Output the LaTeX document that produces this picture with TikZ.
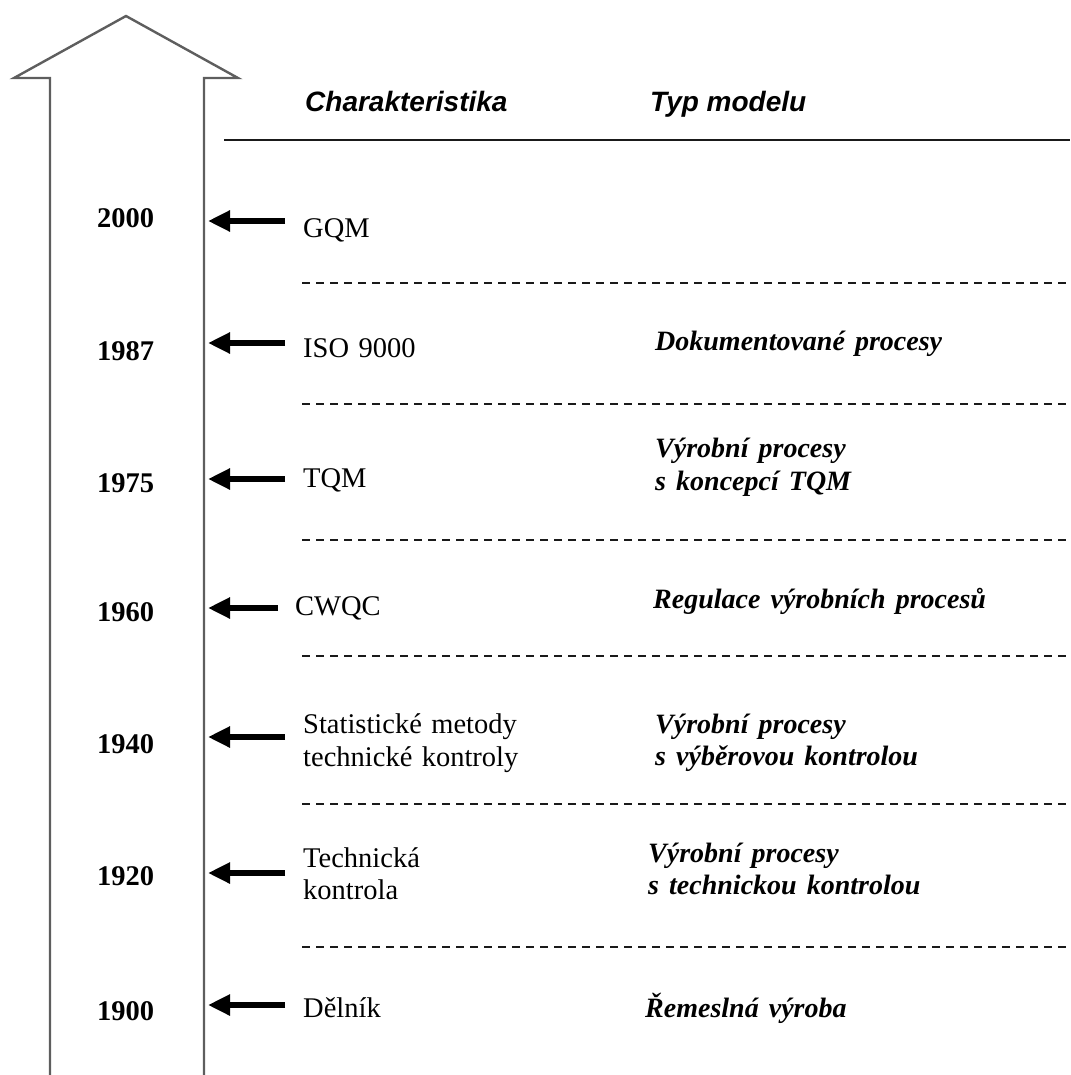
\documentclass[tikz,border=0pt]{standalone}
\usepackage{fontspec}
\setmainfont{Liberation Serif}
\newfontfamily\hfont{Liberation Sans}
\usetikzlibrary{arrows.meta}
\definecolor{shaftgray}{HTML}{5E5E5E}
\definecolor{inkdark}{HTML}{1A1A1A}
\newcommand\widewordspace{\spaceskip=0.36em plus 0.1em\relax}
\newcommand\charwordspace{\spaceskip=0.33em plus 0.1em\relax}
\begin{document}
\begin{tikzpicture}[x=1pt,y=-1pt,
  txt/.style={anchor=base west,inner sep=0pt,font=\fontsize{28}{32}\selectfont},
  year/.style={txt,font=\fontsize{28.5}{32}\selectfont\bfseries},
  charbox/.style={txt,font=\fontsize{28.5}{32}\selectfont\charwordspace},
  modelbox/.style={txt,font=\fontsize{28}{32}\selectfont\bfseries\itshape\widewordspace},
  headbox/.style={txt,font=\fontsize{28}{32}\selectfont\hfont\bfseries\itshape},
  sep/.style={draw=inkdark,line width=1.4pt,dash pattern=on 8pt off 6pt},
  pointer/.style={line width=6.5pt,-{Triangle[length=22pt,width=20pt]}},
  bigarrow/.style={draw=shaftgray,line width=2.4pt,line join=miter}]
\useasboundingbox (0,0) rectangle (1070,1075);

% big time arrow
\draw[bigarrow] (50,1080) -- (50,78) -- (14,78) -- (126,16) -- (238,78) -- (204,78) -- (204,1080);

% header
\node[headbox] (hchar) at (305,112) {Charakteristika};
\node[headbox] (hmodel) at (650,112) {Typ modelu};
\coordinate (hl) at (224,140);
\coordinate (hr) at (1070,140);
\draw[inkdark,line width=1.8pt] (hl) -- (hr);

% years
\node[year] (y2000) at (97,228) {2000};
\node[year] (y1987) at (97,360) {1987};
\node[year] (y1975) at (97,492) {1975};
\node[year] (y1960) at (97,621) {1960};
\node[year] (y1940) at (97,753) {1940};
\node[year] (y1920) at (97,885) {1920};
\node[year] (y1900) at (97,1020) {1900};

% characteristics
\node[charbox] (c2000) at (303,237) {GQM};
\node[charbox] (c1987) at (303,357) {ISO 9000};
\node[charbox] (c1975) at (303,487) {TQM};
\node[charbox] (c1960) at (295,615) {CWQC};
\node[charbox] (c1940a) at (303,733) {Statistické metody};
\node[charbox] (c1940b) at (303,766) {technické kontroly};
\node[charbox] (c1920a) at (303,867) {Technická};
\node[charbox] (c1920b) at (303,899) {kontrola};
\node[charbox] (c1900) at (303,1017) {Dělník};

% model types
\node[modelbox] (m1987) at (655,350) {Dokumentované procesy};
\node[modelbox] (m1975a) at (655,457) {Výrobní procesy};
\node[modelbox] (m1975b) at (655,490) {s koncepcí TQM};
\node[modelbox] (m1960) at (653,608) {Regulace výrobních procesů};
\node[modelbox] (m1940a) at (655,733) {Výrobní procesy};
\node[modelbox] (m1940b) at (655,765) {s výběrovou kontrolou};
\node[modelbox] (m1920a) at (648,862) {Výrobní procesy};
\node[modelbox] (m1920b) at (648,894) {s technickou kontrolou};
\node[modelbox] (m1900) at (645,1017) {Řemeslná výroba};

% pointer arrows
\foreach \n/\yy/\xs in {2000/221/285, 1987/343/285, 1975/479/285, 1960/608/278, 1940/737/285, 1920/873/285, 1900/1005/285}{
  \coordinate (ps\n) at (\xs,\yy);
  \coordinate (pe\n) at (208,\yy);
  \draw[pointer] (ps\n) -- (pe\n);
}

% dashed separators
\foreach \k/\yy in {1/283, 2/404, 3/540, 4/656, 5/804, 6/947}{
  \coordinate (dl\k) at (302,\yy);
  \coordinate (dr\k) at (1068,\yy);
  \draw[sep] (dl\k) -- (dr\k);
}
\end{tikzpicture}
\end{document}
